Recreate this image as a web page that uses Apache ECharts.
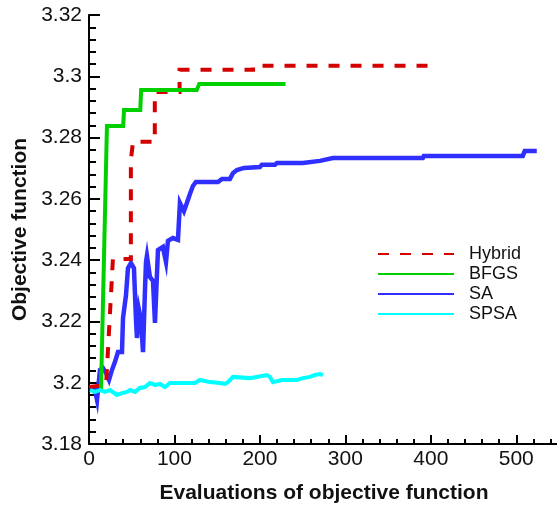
<!DOCTYPE html>
<html>
<head>
<meta charset="utf-8">
<script src="https://cdn.jsdelivr.net/npm/echarts@6/dist/echarts.min.js"></script>
<style>
  html, body { margin: 0; padding: 0; background: #fff; }
  #chart { width: 557px; height: 506px; }
</style>
</head>
<body>
<div id="chart"></div>
<script>
// Objective function value versus number of evaluations, per optimiser
const seriesNames = ['Hybrid', 'BFGS', 'SA', 'SPSA'];

const hybridEvals = [0, 20, 28, 49, 49, 51.5, 77, 77, 106, 106, 192, 192, 405];
const hybridObj   = [3.1986, 3.1993, 3.2404, 3.2404, 3.2727, 3.2786, 3.2786, 3.2949, 3.2949, 3.3021, 3.3021, 3.3034, 3.3034];

const bfgsEvals = [14, 21, 40, 41, 60, 61, 126, 129, 230];
const bfgsObj   = [3.1970, 3.2838, 3.2838, 3.2890, 3.2890, 3.2955, 3.2955, 3.2975, 3.2975];

const saEvals = [1.2, 3.5, 7.0, 9.4, 10.5, 12.9, 16.4, 19.9, 23.4, 26.9, 30.4, 33.9, 38.6, 39.8, 43.3, 45.6,
  49.1, 52.6, 55.0, 56.1, 58.5, 60.8, 63.2, 65.5, 66.7, 67.8, 71.3, 74.9, 77.2, 80.7, 86.5, 90.1, 92.4,
  98.2, 104.1, 106.4, 111.1, 114.6, 118.1, 121.6, 125.1, 150.9, 155.6, 164.9, 168.4, 173.1, 181.3, 200,
  202.3, 217.5, 219.9, 250.3, 252.6, 270.2, 272.5, 285.4, 390.6, 391.8, 507.6, 509.9, 524];
const saObj = [3.1980, 3.1986, 3.1976, 3.1944, 3.1976, 3.2042, 3.2048, 3.2032, 3.2009, 3.2042, 3.2068, 3.2100,
  3.2100, 3.2211, 3.2286, 3.2374, 3.2391, 3.2374, 3.2205, 3.2146, 3.2237, 3.2205, 3.2100, 3.2303, 3.2394,
  3.2414, 3.2345, 3.2332, 3.2195, 3.2433, 3.2443, 3.2394, 3.2463, 3.2472, 3.2466, 3.2587, 3.2560, 3.2587,
  3.2616, 3.2642, 3.2655, 3.2655, 3.2665, 3.2665, 3.2684, 3.2694, 3.2701, 3.2704, 3.2711, 3.2711, 3.2717,
  3.2717, 3.2720, 3.2724, 3.2730, 3.2733, 3.2733, 3.2740, 3.2740, 3.2756, 3.2756];

const spsaEvals = [1.2, 7.0, 12.9, 18.7, 24.6, 32.7, 38.6, 44.4, 48.0, 53.8, 59.6, 65.5, 71.3, 77.2, 83.0,
  88.9, 94.7, 124.0, 129.8, 141.5, 153.2, 159.1, 162.6, 168.4, 188.3, 202.3, 208.2, 211.7, 215.2, 225.7,
  243.3, 250.3, 258.5, 264.3, 270.2, 273.7];
const spsaObj = [3.1976, 3.1970, 3.1976, 3.1970, 3.1976, 3.1960, 3.1966, 3.1970, 3.1976, 3.1970, 3.1983,
  3.1986, 3.1999, 3.1993, 3.1996, 3.1986, 3.1999, 3.1999, 3.2009, 3.2002, 3.1999, 3.1996, 3.2002, 3.2019,
  3.2015, 3.2022, 3.2025, 3.2019, 3.2002, 3.2009, 3.2009, 3.2015, 3.2019, 3.2025, 3.2028, 3.2025];

const xTicks = { min: 0, max: 550, interval: 100 };
const yTicks = { min: 3.18, max: 3.32, interval: 0.02 };

const zip = (xs, ys) => xs.map((x, i) => [x, ys[i]]);

const FONT = '"Liberation Sans", Arial, Helvetica, sans-serif';

const chart = echarts.init(document.getElementById('chart'), null, { renderer: 'canvas' });

function lineSeries(name, data, color, width, type) {
  return {
    name: name,
    type: 'line',
    data: data,
    symbol: 'none',
    showSymbol: false,
    animation: false,
    clip: false,
    lineStyle: { color: color, width: width, type: type || 'solid', cap: 'butt', join: 'miter' },
    itemStyle: { color: color }
  };
}

chart.setOption({
  animation: false,
  backgroundColor: '#ffffff',
  grid: { left: 89, top: 15, width: 470, height: 429, containLabel: false, outerBoundsMode: 'none' },
  legend: {
    data: seriesNames,
    orient: 'vertical',
    left: 377,
    top: 245,
    padding: 0,
    itemWidth: 76,
    itemHeight: 4,
    itemGap: 2,
    itemStyle: { opacity: 0 },
    textStyle: { fontFamily: FONT, fontSize: 18, color: '#111', lineHeight: 18, padding: [0, 0, 0, 10] }
  },
  xAxis: {
    type: 'value',
    min: xTicks.min,
    max: xTicks.max,
    interval: xTicks.interval,
    name: 'Evaluations of objective function',
    nameLocation: 'middle',
    nameGap: 39,
    nameTextStyle: { fontFamily: FONT, fontSize: 21, fontWeight: 'bold', color: '#111' },
    axisLine: { show: true, onZero: false, lineStyle: { color: '#000', width: 2 } },
    axisTick: { show: true, inside: true, length: 9, lineStyle: { color: '#000', width: 2 } },
    minorTick: { show: true, splitNumber: 5, length: 5, lineStyle: { color: '#000', width: 2 } },
    axisLabel: { fontFamily: FONT, fontSize: 21, color: '#111', margin: 5, showMaxLabel: false },
    splitLine: { show: false }
  },
  yAxis: {
    type: 'value',
    min: yTicks.min,
    max: yTicks.max,
    interval: yTicks.interval,
    name: 'Objective function',
    nameLocation: 'middle',
    nameGap: 56,
    nameRotate: 90,
    nameTextStyle: { fontFamily: FONT, fontSize: 21, fontWeight: 'bold', color: '#111' },
    axisLine: { show: true, onZero: false, lineStyle: { color: '#000', width: 2 } },
    axisTick: { show: true, inside: true, length: 11, lineStyle: { color: '#000', width: 2 } },
    minorTick: { show: true, splitNumber: 5, length: 7, lineStyle: { color: '#000', width: 2 } },
    axisLabel: {
      fontFamily: FONT, fontSize: 21, color: '#111', margin: 7,
      formatter: v => String(parseFloat(v.toFixed(2)))
    },
    splitLine: { show: false }
  },
  series: [
    lineSeries('SA', zip(saEvals, saObj), '#2f2fff', 4.5),
    lineSeries('Hybrid', zip(hybridEvals, hybridObj), '#d40000', 4, [11, 11]),
    lineSeries('BFGS', zip(bfgsEvals, bfgsObj), '#00d000', 4),
    lineSeries('SPSA', zip(spsaEvals, spsaObj), '#00ffff', 4)
  ]
});
</script>
</body>
</html>
